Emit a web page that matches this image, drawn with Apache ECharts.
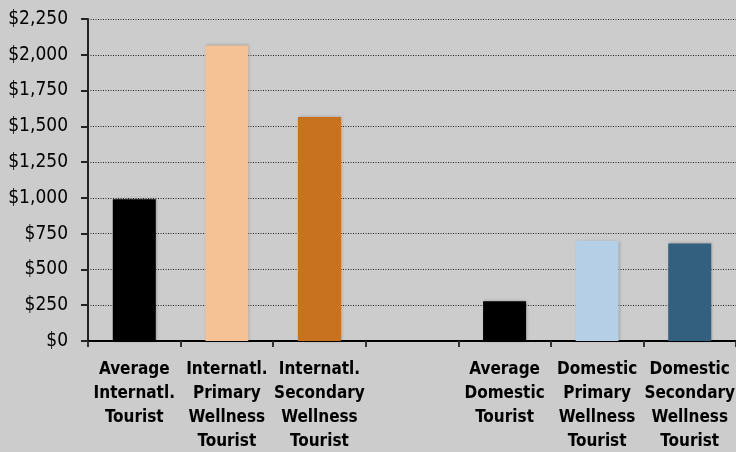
<!DOCTYPE html>
<html>
<head>
<meta charset="utf-8">
<script src="https://cdn.jsdelivr.net/npm/echarts@6/dist/echarts.min.js"></script>
<style>
  html, body { margin: 0; padding: 0; background: #cccccc; }
  #chartmain { width: 736px; height: 452px; }
</style>
</head>
<body>
<div id="chartmain"></div>
<script>
// categories (blank slot separates international and domestic groups)
var categories = [
    'Average\nInternatl.\nTourist',
    'Internatl.\nPrimary\nWellness\nTourist',
    'Internatl.\nSecondary\nWellness\nTourist',
    '',
    'Average\nDomestic\nTourist',
    'Domestic\nPrimary\nWellness\nTourist',
    'Domestic\nSecondary\nWellness\nTourist'
];
// average spend per trip, USD
var spend = [990, 2065, 1565, '-', 278, 700, 682];
var barColors = ['#000000', '#f5c296', '#c8711e', '#cccccc', '#000000', '#b4cfe6', '#34607f'];

var fontName = '"DejaVu Sans Condensed", "DejaVu Sans", sans-serif';

var myChart = echarts.init(document.getElementById('chartmain'));

var option = {
    backgroundColor: '#cccccc',
    animation: false,
    grid: { left: 88, right: 0, top: 19, bottom: 111, outerBoundsMode: 'none' },
    xAxis: {
        type: 'category',
        data: categories,
        axisLine: { lineStyle: { color: '#000', width: 2 } },
        axisTick: { show: true, length: 6, lineStyle: { color: '#333', width: 2 } },
        axisLabel: {
            interval: 0,
            margin: 17,
            color: '#000',
            fontFamily: fontName,
            fontWeight: 'bold',
            fontSize: 17,
            lineHeight: 24
        }
    },
    yAxis: {
        type: 'value',
        min: 0,
        max: 2250,
        interval: 250,
        axisLine: { show: true, lineStyle: { color: '#222', width: 2 } },
        axisTick: { show: true, length: 7, lineStyle: { color: '#222', width: 2 } },
        splitLine: { lineStyle: { color: '#222', type: [1, 1.5], width: 1 } },
        axisLabel: {
            margin: 20,
            color: '#000',
            fontFamily: fontName,
            fontSize: 19,
            formatter: function (v) {
                return '$' + v.toString().replace(/\B(?=(\d{3})+(?!\d))/g, ',');
            }
        }
    },
    series: [{
        type: 'bar',
        barWidth: 43,
        data: spend.map(function (v, i) {
            return {
                value: v,
                itemStyle: {
                    color: barColors[i],
                    shadowColor: 'rgba(0,0,0,0.25)',
                    shadowBlur: 3,
                    shadowOffsetX: 1
                }
            };
        })
    }]
};

myChart.setOption(option);
</script>
</body>
</html>
